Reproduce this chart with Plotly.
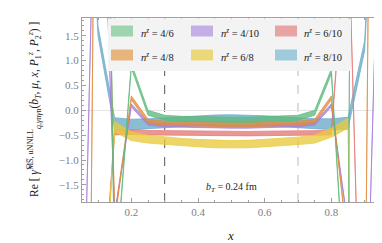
import plotly.graph_objects as go

# ---------------- data ----------------
x_vals = [0.05, 0.10, 0.15, 0.20, 0.25, 0.30, 0.35, 0.40, 0.45, 0.50,
          0.55, 0.60, 0.65, 0.70, 0.75, 0.80, 0.85, 0.90, 0.95]

# central values and half-widths of the bands
green_c  = [25.0, 20.0, -3.5, 0.90, -0.05, -0.15, -0.17, -0.18, -0.19, -0.19,
            -0.19, -0.18, -0.17, -0.15, -0.05, 0.78, -4.7, 60.0, 60.0]
green_w  = [0.05] * 19

orange_c = [-24.0, 13.0, -2.2, 0.25, -0.22, -0.26, -0.27, -0.28, -0.29, -0.29,
            -0.29, -0.28, -0.27, -0.26, -0.22, 0.25, -2.75, -5.5, 31.0]
orange_w = [0.04] * 19

purple_c = [-6.4, 7.8, -2.1, 0.10, -0.27, -0.30, -0.31, -0.32, -0.33, -0.33,
            -0.33, -0.32, -0.31, -0.30, -0.27, 0.10, -2.34, -6.0, 6.0]
purple_w = [0.03] * 19

yellow_c = [-10.0, -6.0, -0.33, -0.52, -0.58, -0.615, -0.64, -0.66, -0.68, -0.685,
            -0.68, -0.66, -0.64, -0.615, -0.58, -0.45, -0.26, -40.0, -40.0]
yellow_w = [0.08, 0.08, 0.10, 0.09, 0.08, 0.075, 0.075, 0.075, 0.075, 0.075,
            0.075, 0.075, 0.075, 0.075, 0.08, 0.09, 0.10, 0.08, 0.08]

red_c    = [-5.0, -5.0, -0.45, -0.44, -0.45, -0.455, -0.46, -0.465, -0.47, -0.47,
            -0.47, -0.465, -0.46, -0.455, -0.45, -0.45, 4.0, -8.0, -8.0]
red_w    = [0.045] * 19

blue_c   = [8.0, 1.6, -0.27, -0.29, -0.27, -0.25, -0.23, -0.21, -0.20, -0.195,
            -0.20, -0.21, -0.23, -0.25, -0.27, -0.28, -0.26, 1.3, 8.0]
blue_w   = [0.10, 0.10, 0.12, 0.11, 0.10, 0.10, 0.10, 0.10, 0.105, 0.105,
            0.105, 0.10, 0.10, 0.10, 0.10, 0.11, 0.12, 0.10, 0.10]

labels = ["4/6", "4/10", "6/10", "4/8", "6/8", "8/10"]

x_ticks = [0.2, 0.4, 0.6, 0.8]
y_ticks = [-1.5, -1.0, -0.5, 0.0, 0.5, 1.0, 1.5]

# ---------------- styling ----------------
band_rgb = {
    "green": (95, 185, 125),
    "orange": (225, 140, 60),
    "purple": (165, 125, 220),
    "yellow": (232, 202, 60),
    "red": (228, 120, 118),
    "blue": (105, 170, 200),
}
swatch_col = {
    "4/6": "#9dd6ae", "4/10": "#c4aee6", "6/10": "#e8a4a2",
    "4/8": "#e8b47e", "6/8": "#ecd879", "8/10": "#9fcadc",
}

series = [
    ("blue", blue_c, blue_w),
    ("red", red_c, red_w),
    ("yellow", yellow_c, yellow_w),
    ("purple", purple_c, purple_w),
    ("orange", orange_c, orange_w),
    ("green", green_c, green_w),
]

fig = go.Figure()
for name, c, w in series:
    r, g, b = band_rgb[name]
    upper = [ci + wi for ci, wi in zip(c, w)]
    lower = [ci - wi for ci, wi in zip(c, w)]
    fig.add_trace(go.Scatter(x=x_vals, y=upper, mode="lines",
                             line=dict(color=f"rgba({r},{g},{b},0.8)", width=0.9),
                             showlegend=False, hoverinfo="skip"))
    fig.add_trace(go.Scatter(x=x_vals, y=lower, mode="lines", fill="tonexty",
                             fillcolor=f"rgba({r},{g},{b},0.78)",
                             line=dict(color=f"rgba({r},{g},{b},0.8)", width=0.9),
                             showlegend=False, hoverinfo="skip"))

# plot-area geometry (pixels)
W, H = 382, 243
L, R, T, B = 74, 370, 10, 194


def px(xp):
    return (xp - L) / (R - L)


def py(yp):
    return (B - yp) / (B - T)


serif = "Liberation Serif"

fig.add_vline(x=0.3, line=dict(color="#555555", width=1, dash="dash"), layer="below")
fig.add_vline(x=0.7, line=dict(color="#bbbbbb", width=1, dash="dash"), layer="below")

# legend box (drawn manually to reproduce the reference layout)
fig.add_shape(type="rect", xref="paper", yref="paper",
              x0=px(100), x1=px(343), y0=py(63), y1=py(10.5),
              fillcolor="#f3f3f3", line=dict(width=0), layer="above")
cols_sw = [(103, 125), (183, 205), (267, 289)]
cols_tx = [131, 211, 294]
rows = [23, 47]
for i, lab in enumerate(labels):
    row, col = divmod(i, 3)
    x0, x1 = cols_sw[col]
    yc = rows[row]
    fig.add_shape(type="rect", xref="paper", yref="paper",
                  x0=px(x0), x1=px(x1), y0=py(yc + 5.5), y1=py(yc - 5.5),
                  fillcolor=swatch_col[lab], line=dict(width=0), layer="above")
    fig.add_annotation(xref="paper", yref="paper", x=px(cols_tx[col]), y=py(yc + 1),
                       text=f"<i>n</i><sup><i>z</i></sup> = {lab}", showarrow=False,
                       xanchor="left", yanchor="middle",
                       font=dict(family=serif, size=10.5, color="#222222"))

fig.add_annotation(xref="x", yref="paper", x=0.5, y=py(179),
                   text="<i>b<sub>T</sub></i> = 0.24 fm", showarrow=False,
                   xanchor="center", yanchor="middle",
                   font=dict(family=serif, size=10, color="#222222"))

fig.add_annotation(xref="paper", yref="paper", x=0.5, y=py(227),
                   text="<i>x</i>", showarrow=False, xanchor="center", yanchor="middle",
                   font=dict(family=serif, size=13, color="#222222"))

ytitle = ("Re [ <i>γ̂</i><sup>M\u0305S\u0305, uNNLL</sup><sub><i>q</i>,<i>γ</i>n<i>γ</i>n</sub>"
          "(<i>b</i><sub><i>T</i></sub>, <i>μ</i>, <i>x</i>, <i>P</i><sub>1</sub><sup><i>z</i></sup>, "
          "<i>P</i><sub>2</sub><sup><i>z</i></sup>) ]")
fig.add_annotation(xref="paper", yref="paper", x=px(26), y=py(102),
                   text=ytitle, showarrow=False, textangle=-90,
                   xanchor="center", yanchor="middle",
                   font=dict(family=serif, size=11.5, color="#222222"))

axis_common = dict(
    showline=True, linecolor="#a0a0a0", linewidth=1, mirror="allticks",
    ticks="inside", ticklen=4, tickcolor="#a0a0a0", tickwidth=1,
    showgrid=False,
    tickfont=dict(family=serif, size=11, color="#808080"),
)

fig.update_xaxes(range=[0.052, 0.94], tickvals=x_ticks,
                 ticktext=[f"{t:.1f}" for t in x_ticks],
                 minor=dict(dtick=0.05, tick0=0.0, ticks="inside", ticklen=2,
                            tickcolor="#a0a0a0", showgrid=False),
                 zeroline=False, **axis_common)
fig.update_yaxes(range=[-1.845, 1.857], tickvals=y_ticks,
                 ticktext=[f"{t:.1f}".replace("-", "\u2212") for t in y_ticks],
                 minor=dict(dtick=0.1, tick0=0.0, ticks="inside", ticklen=2,
                            tickcolor="#a0a0a0", showgrid=False),
                 zeroline=True, zerolinecolor="#e4e4e4", zerolinewidth=1,
                 **axis_common)

fig.update_layout(
    width=W, height=H,
    margin=dict(l=L, r=W - R, t=T, b=H - B),
    paper_bgcolor="white", plot_bgcolor="white",
    showlegend=False,
)

fig.write_html("out.html")
